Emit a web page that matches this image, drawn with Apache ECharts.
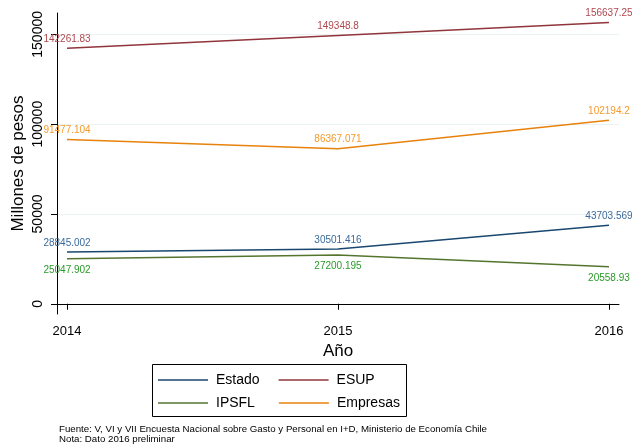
<!DOCTYPE html>
<html>
<head>
<meta charset="utf-8">
<script src="https://cdn.jsdelivr.net/npm/echarts@6/dist/echarts.min.js"></script>
<style>html,body{margin:0;padding:0;background:#fff}#c{width:632px;height:447px}</style>
</head>
<body>
<div id="c"></div>
<script>
var years = [2014, 2015, 2016];
var estado = [28845.002, 30501.416, 43703.569];
var esup = [142261.83, 149348.8, 156637.25];
var ipsfl = [25047.902, 27200.195, 20558.93];
var empresas = [91477.104, 86367.071, 102194.2];
var yTicks = [0, 50000, 100000, 150000];
var xTicks = [2014, 2015, 2016];

var FONT = '"Liberation Sans", Arial, sans-serif';
function pairs(v){ return years.map(function(y,i){ return [y, v[i]]; }); }
function series(name, vals, lineColor, labelColor, pos, dist){
  return {
    name: name, type: 'line', data: pairs(vals), symbol: 'circle', showSymbol: true,
    symbolSize: 0.01,
    lineStyle: {color: lineColor, width: 1.5}, itemStyle: {color: lineColor},
    label: {show: true, position: pos, distance: dist, color: labelColor, fontSize: 10, fontFamily: FONT,
      formatter: function(p){ return String(p.value[1]); }},
    animation: false
  };
}
var chart = echarts.init(document.getElementById('c'));
chart.setOption({
  animation: false,
  backgroundColor: '#fff',
  grid: {left: 57, right: 13, top: 13, bottom: 133, containLabel: false, outerBoundsMode: 'none'},
  xAxis: {
    type: 'value', min: 2013.963, max: 2016.037,
    name: 'Año', nameLocation: 'middle', nameGap: 22,
    nameTextStyle: {fontSize: 17, color: '#000', fontFamily: FONT},
    axisLine: {show: true, lineStyle: {color: '#000', width: 1}},
    axisTick: {show: true, length: 6, customValues: xTicks, lineStyle: {color: '#000'}},
    axisLabel: {customValues: xTicks, margin: 11, fontSize: 13, color: '#000', fontFamily: FONT,
      formatter: function(v){ return String(v); }},
    splitLine: {show: false}
  },
  yAxis: {
    type: 'value', min: -5700, max: 161900,
    name: 'Millones de pesos', nameLocation: 'middle', nameGap: 30, nameRotate: 90,
    nameMoveOverlap: false,
    nameTextStyle: {fontSize: 17, color: '#000', fontFamily: FONT},
    axisLine: {show: true, lineStyle: {color: '#000', width: 1}},
    axisTick: {show: true, length: 6, customValues: yTicks, lineStyle: {color: '#000'}},
    axisLabel: {customValues: yTicks, rotate: 90, margin: 12, fontSize: 14, color: '#000', fontFamily: FONT,
      formatter: function(v){ return String(v); }},
    splitLine: {show: true, lineStyle: {color: '#eaf2f3', width: 1}}
  },
  legend: [
    {data: ['Estado', 'ESUP'], left: 158, top: 373, padding: 0, orient: 'horizontal', icon: 'rect',
      itemWidth: 50, itemHeight: 1.5, itemGap: 19,
      textStyle: {fontSize: 14, color: '#000', fontFamily: FONT, padding: [0,0,0,3]}},
    {data: ['IPSFL', 'Empresas'], left: 158, top: 396, padding: 0, orient: 'horizontal', icon: 'rect',
      itemWidth: 50, itemHeight: 1.5, itemGap: 24,
      textStyle: {fontSize: 14, color: '#000', fontFamily: FONT, padding: [0,0,0,3]}}
  ],
  graphic: [
    {type: 'rect', shape: {x: 152.5, y: 364.5, width: 254, height: 52}, style: {fill: 'none', stroke: '#000', lineWidth: 1}, z: 100},
    {type: 'text', left: 59, top: 424, style: {text: 'Fuente: V, VI y VII Encuesta Nacional sobre Gasto y Personal en I+D, Ministerio de Economía Chile', fontSize: 9.7, fill: '#000', fontFamily: FONT}},
    {type: 'text', left: 59, top: 434, style: {text: 'Nota: Dato 2016 preliminar', fontSize: 9.7, fill: '#000', fontFamily: FONT}}
  ],
  series: [
    series('Estado', estado, '#1a476f', '#3a6a9a', 'top', 4),
    series('ESUP', esup, '#90353b', '#b0474f', 'top', 4),
    series('IPSFL', ipsfl, '#55752f', '#2a9a2a', 'bottom', 6),
    series('Empresas', empresas, '#e8820c', '#f59a2a', 'top', 4)
  ]
});
</script>
</body>
</html>
